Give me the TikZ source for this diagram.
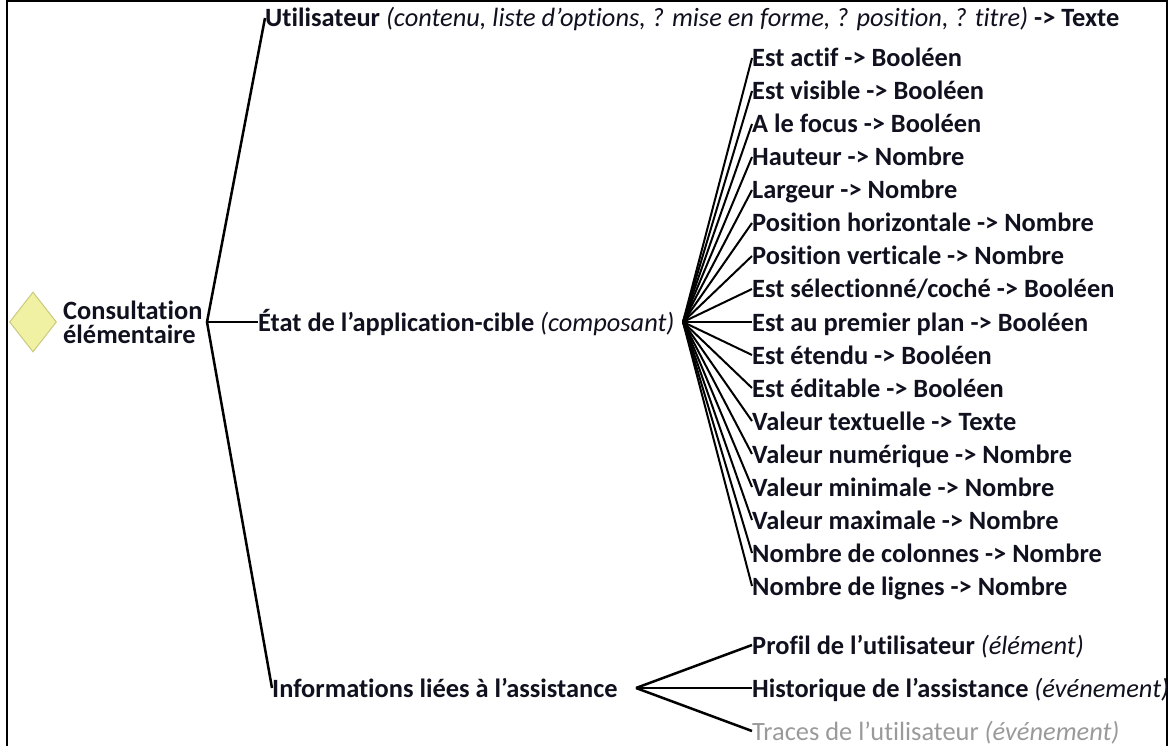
\documentclass[tikz,border=0pt]{standalone}
\usepackage{fontspec}
\setmainfont{Carlito}[Ligatures=NoCommon]
\usepackage{tikz}
\usetikzlibrary{shapes.geometric}
\definecolor{encre}{HTML}{10101E}
\definecolor{losange}{HTML}{F1F1A4}
\definecolor{losangebord}{HTML}{CACA7E}
\definecolor{trace}{HTML}{9A9A9A}
\newcommand{\enItalique}[1]{{\mdseries\itshape #1}}
\tikzset{
  feuille/.style={anchor=west, inner sep=0pt, text=encre,
    font=\fontsize{26.4}{24}\selectfont\bfseries},
  ligne/.style={feuille, text height=21pt, text depth=3pt},
  branche/.style={line width=2.5pt, black},
  rayon/.style={line width=2pt, black},
}
\begin{document}
\begin{tikzpicture}[x=1pt,y=-1pt]
		\useasboundingbox (0,0) rectangle (1171,746);
		% cadre
		\draw [line width=2pt] (7,746) -- (7,1) -- (1167,1) -- (1167,746);
		% racine
		\node [diamond, fill=losange, draw=losangebord, line width=1pt, minimum width=47pt, minimum height=60pt, inner sep=0pt] (losange) at (33,322) {};
		\node [feuille, align=left] (racine) at (63,322) {Consultation\\élémentaire};
		\coordinate (r) at (207,322);
		% trois branches
		\node [ligne] (util) at (265,18) {Utilisateur \enItalique{(contenu, liste d’options, ? mise en forme, ? position, ? titre)} -> Texte};
		\node [ligne] (etat) at (258,322) {État de l’application-cible \enItalique{(composant)}};
		\node [ligne] (info) at (272,688) {Informations liées à l’assistance};
		\draw [branche] (util.west) -- (r) -- (info.west);
		\draw [branche] (r) -- (etat.west);
		% proprietes de l'etat
		\coordinate (fe) at (683,322);
		\foreach \t [count=\i] in {{Est actif -> Booléen}, {Est visible -> Booléen}, {A le focus -> Booléen}, {Hauteur -> Nombre}, {Largeur -> Nombre}, {Position horizontale -> Nombre}, {Position verticale -> Nombre}, {Est sélectionné/coché -> Booléen}, {Est au premier plan -> Booléen}, {Est étendu -> Booléen}, {Est éditable -> Booléen}, {Valeur textuelle -> Texte}, {Valeur numérique -> Nombre}, {Valeur minimale -> Nombre}, {Valeur maximale -> Nombre}, {Nombre de colonnes -> Nombre}, {Nombre de lignes -> Nombre}}
		{
			\node [ligne] (e\i) at (752,25+33*\i) {\t};
			\draw [rayon] (fe) -- (e\i.west);
		}
		% assistance
		\coordinate (fi) at (636,688);
		\node [ligne] (profil) at (752,645) {Profil de l’utilisateur \enItalique{(élément)}};
		\node [ligne] (histo) at (752,688) {Historique de l’assistance \enItalique{(événement)}};
		\node [ligne, text=trace, font=\fontsize{26.4}{24}\selectfont] (traces) at (752,731) {Traces de l’utilisateur \enItalique{(événement)}};
		\draw [branche] (fi) -- (profil.west);
		\draw [branche] (fi) -- (histo.west);
		\draw [branche] (fi) -- (traces.west);
\end{tikzpicture}
\end{document}
